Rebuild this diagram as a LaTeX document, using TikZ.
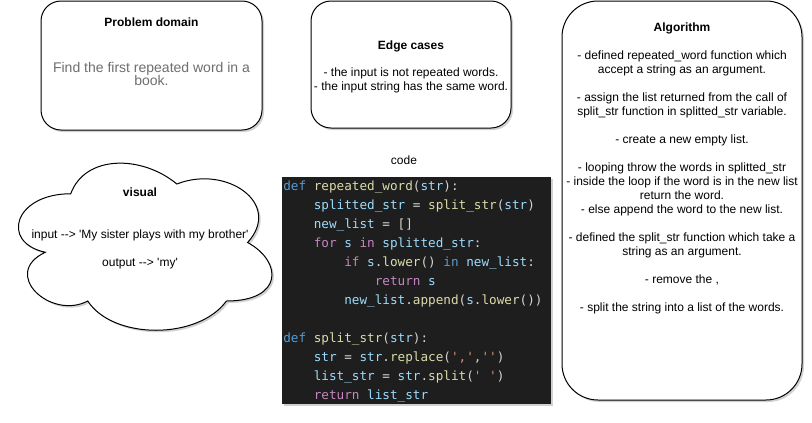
\documentclass[tikz,border=0pt]{standalone}
\usepackage{fontspec}
\setmainfont{Liberation Sans}
\setmonofont{DejaVu Sans Mono}
\usepackage{tikz}
\usetikzlibrary{shadows}
\definecolor{codebg}{HTML}{1E1E1E}
\definecolor{kwblue}{HTML}{569CD6}
\definecolor{fnyellow}{HTML}{DCDCAA}
\definecolor{varblue}{HTML}{9CDCFE}
\definecolor{ctlpurple}{HTML}{C586C0}
\definecolor{strorange}{HTML}{CE9178}
\definecolor{punctgray}{HTML}{D4D4D4}
\definecolor{bodygray}{HTML}{6E6E6E}
\newcommand{\kw}[1]{\textcolor{kwblue}{#1}}
\newcommand{\fn}[1]{\textcolor{fnyellow}{#1}}
\newcommand{\va}[1]{\textcolor{varblue}{#1}}
\newcommand{\ct}[1]{\textcolor{ctlpurple}{#1}}
\newcommand{\st}[1]{\textcolor{strorange}{#1}}
\newcommand{\q}{\textquotesingle}
\newcommand{\panel}[5]{\draw[panel, rounded corners=#5] (#1,#2) rectangle (#3,#4);}
\newcommand{\codeline}[4]{\node[codetxt] (#1) at (283+30.5*#2, 190.5+19*#3) {#4};}
\tikzset{
  shade/.style={drop shadow={shadow xshift=1.5pt, shadow yshift=-1.5pt, opacity=.3, fill=black!60}},
  panel/.style={draw=black, line width=0.75pt, fill=white, shade},
  label/.style={anchor=base, inner sep=0pt, align=center, font=\fontsize{9pt}{10.5pt}\selectfont},
  block/.style={label, anchor=north},
  title/.style={label, font=\fontsize{9pt}{10.5pt}\selectfont\bfseries},
  codetxt/.style={anchor=base west, inner sep=0pt, text=punctgray, font=\ttfamily\fontsize{9.5pt}{11pt}\selectfont}
}

\begin{document}
\begin{tikzpicture}[x=0.75pt, y=-0.75pt]
\useasboundingbox (0,0) rectangle (812,422);
% boxes
\panel{41}{1}{262}{130}{15pt}
\panel{311}{1}{511}{128}{15pt}
\panel{562}{1}{802}{400}{27pt}
% cloud
\draw[panel] (70.75,193.75)
  .. controls (14.15,193.75) and (0,242.5) .. (45.28,252.25)
  .. controls (0,273.7) and (50.94,320.5) .. (87.73,301)
  .. controls (113.2,340) and (198.1,340) .. (226.4,301)
  .. controls (283,301) and (283,262) .. (247.63,242.5)
  .. controls (283,203.5) and (226.4,164.5) .. (176.88,184)
  .. controls (141.5,154.75) and (84.9,154.75) .. (70.75,193.75) -- cycle;
% code block
\fill[codebg, shade] (282,177) rectangle (551,404);

% problem domain
\node[title] (pdtitle) at (151.5,26) {Problem domain};
\node[block, text=bodygray, font=\fontsize{10.5pt}{10pt}\selectfont] (pdtext) at (151.5,61.8)
  {Find the first repeated word in a\\book.};
% edge cases
\node[title] (ectitle) at (411,49) {Edge cases};
\node[block] (ectext) at (411,67.3)
  {- the input is not repeated words.\\- the input string has the same word.};
% algorithm
\node[title] (algtitle) at (682,31) {Algorithm};
\node[block] (algtext) at (682,50.3)
  {- defined repeated\_word function which\\accept a string as an argument.\\[10.5pt]
   - assign the list returned from the call of\\split\_str function in splitted\_str variable.\\[10.5pt]
   - create a new empty list.\\[10.5pt]
   - looping throw the words in splitted\_str\\- inside the loop if the word is in the new list\\return the word.\\- else append the word to the new list.\\[10.5pt]
   - defined the split\_str function which take a\\string as an argument.\\[10.5pt]
   - remove the ,\\[10.5pt]
   - split the string into a list of the words.};
% visual
\node[title] (vistitle) at (140,196) {visual};
\node[label] (visin) at (140,238) {input -{}-> \q My sister plays with my brother\q};
\node[label] (visout) at (140,266) {output -{}-> \q my\q};
% code
\node[label] (codetitle) at (404,164) {code};
\codeline{c1}{0}{0}{\kw{def} \fn{repeated\_word}(\va{str}):}
\codeline{c2}{1}{1}{\va{splitted\_str} = \fn{split\_str}(\va{str})}
\codeline{c3}{1}{2}{\va{new\_list} = []}
\codeline{c4}{1}{3}{\ct{for} \va{s} \ct{in} \va{splitted\_str}:}
\codeline{c5}{2}{4}{\ct{if} \va{s}.\fn{lower}() \kw{in} \va{new\_list}:}
\codeline{c6}{3}{5}{\ct{return} \va{s}}
\codeline{c7}{2}{6}{\va{new\_list}.\fn{append}(\va{s}.\fn{lower}())}
\codeline{c8}{0}{8}{\kw{def} \fn{split\_str}(\va{str}):}
\codeline{c9}{1}{9}{\va{str} = \va{str}.\fn{replace}(\st{\q,\q},\st{\q\q})}
\codeline{c10}{1}{10}{\va{list\_str} = \va{str}.\fn{split}(\st{\q{} \q})}
\codeline{c11}{1}{11}{\ct{return} \va{list\_str}}
\end{tikzpicture}
\end{document}
